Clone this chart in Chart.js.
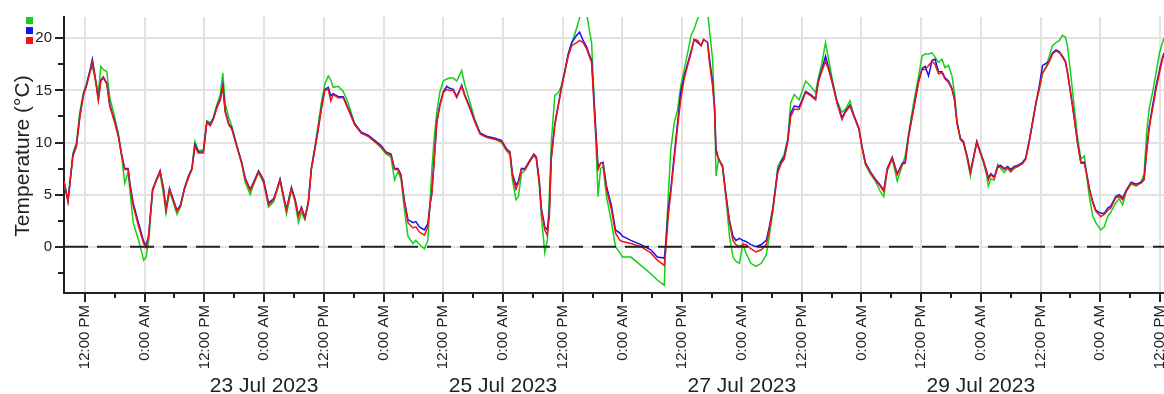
<!DOCTYPE html>
<html>
<head>
<meta charset="utf-8">
<script src="https://cdn.jsdelivr.net/npm/chart.js@4.4.0/dist/chart.umd.min.js"></script>
<style>
  html, body { margin: 0; padding: 0; background: #fff; }
  #wrap { width: 1164px; height: 394px; }
</style>
</head>
<body>
<div id="wrap"><canvas id="chart" width="1164" height="394"></canvas></div>
<script>
// hours since 21 Jul 2023 00:00
const hours = [
  7.8, 8.6, 9.6, 10.3, 11.0, 11.7, 12.3, 13.0, 13.5, 14.0, 14.7, 15.2, 15.7, 16.4, 17.0, 18.0, 18.7, 19.4, 20.0, 20.7,
  21.0, 21.7, 22.8, 23.8, 24.3, 24.8, 25.6, 26.4, 27.1, 27.8, 28.3, 29.0, 29.7, 30.5, 31.2, 32.0, 32.8, 33.5, 34.1, 34.8,
  35.8, 36.5, 37.2, 37.8, 38.5, 39.2, 39.7, 40.2, 40.9, 41.5, 42.5, 43.5, 44.2, 45.2,
  45.9, 46.9, 47.9, 48.9, 49.9, 50.5, 51.2, 51.9, 52.5, 53.5, 54.2, 54.9, 55.5, 56.2, 56.9, 57.5, 58.2, 58.9, 59.5, 60.2,
  60.9, 61.4, 61.9, 62.9, 63.9, 64.9, 66.2, 67.5, 68.9, 70.2, 71.5, 72.5, 73.5, 74.2, 74.9, 75.5, 76.2, 76.9, 77.9, 78.5,
  79.2, 80.2, 80.9, 81.4, 81.7, 82.2, 82.7, 83.3, 84.0,
  84.7, 85.3, 86.0, 86.7, 87.7, 88.3, 89.4, 90.4, 91.4, 92.7, 94.4, 95.7, 96.7, 97.4, 97.9, 98.6, 99.1, 99.7, 100.4, 101.4,
  102.2, 102.7, 103.3, 103.7, 104.4, 104.9, 105.3, 105.7, 106.4, 107.1, 107.7, 108.4, 109.1, 109.8, 110.8, 111.4, 112.1, 112.8, 113.3, 113.8,
  114.4, 115.1, 115.6, 116.1, 116.8, 117.8, 118.6, 119.5,
  120.0, 121.7, 123.7, 125.7, 127.0, 128.4, 128.7, 129.2, 129.7, 130.4, 131.1, 131.7, 132.4, 133.1, 133.8, 134.4, 135.1, 135.8, 136.3, 137.1,
  137.4, 138.1, 138.5, 138.8, 139.3, 140.1, 140.8, 141.5, 142.2, 142.8, 143.5, 144.2, 144.8, 145.8, 146.8, 147.9, 148.9, 149.5, 150.2, 151.2,
  151.9, 152.5, 153.2, 153.8, 154.5, 155.5,
  156.8, 157.8, 158.8, 159.4, 160.1, 160.8, 161.4, 162.1, 163.1, 164.1, 164.8, 165.7, 166.5, 167.5, 168.1, 168.8, 169.8, 170.8, 171.8, 172.5,
  173.2, 174.2, 174.7, 175.2, 176.2, 176.8, 177.5, 178.5, 179.5, 180.2, 180.8, 181.5, 182.2, 182.8, 183.5, 184.2, 184.8, 185.5, 186.2, 186.7,
  187.2, 187.9, 188.5, 189.2, 189.9, 190.5, 191.2, 191.9, 192.5, 193.2,
  193.5, 194.0, 194.7, 195.4, 196.0, 196.7, 197.4, 198.0, 198.7, 199.4, 200.4, 201.0, 201.7, 202.4, 203.1, 203.7, 204.4, 205.1, 205.7, 206.4,
  207.1, 207.8, 208.4, 209.0, 209.4, 210.1, 210.8, 211.4, 212.1, 212.8, 213.2, 213.8, 214.5, 215.1, 216.1, 216.8, 217.5, 218.1, 219.1, 219.8,
  220.5, 221.2, 222.2, 223.2, 224.2, 224.8, 225.3, 225.8, 226.5, 227.2, 227.9, 228.5, 228.8
];

const tempRed = [
  6.3, 4.3, 8.7, 9.6, 12.5, 14.5, 15.4, 16.7, 17.7, 16.4, 14.0, 15.9, 16.2, 15.6, 13.5, 11.9, 10.6, 8.7, 7.4, 7.4,
  6.1, 3.9, 1.9, 0.3, -0.1, 1.0, 5.5, 6.4, 7.2, 5.5, 3.5, 5.5, 4.5, 3.4, 3.9, 5.5, 6.6, 7.4, 9.6, 9.0,
  9.0, 11.9, 11.6, 12.2, 13.3, 14.1, 15.3, 12.9, 11.7, 11.3, 9.6, 8.0, 6.5, 5.4,
  6.1, 7.2, 6.3, 4.0, 4.5, 5.3, 6.4, 4.8, 3.5, 5.6, 4.5, 2.9, 3.7, 2.7, 4.2, 7.4, 9.3, 11.3, 13.2, 15.0,
  15.1, 14.0, 14.6, 14.3, 14.3, 13.2, 11.7, 10.9, 10.6, 10.1, 9.6, 9.0, 8.8, 7.4, 7.4, 6.8, 4.2, 2.3, 1.8, 1.9,
  1.4, 1.1, 1.9, 4.2, 5.0, 8.4, 11.9, 13.5, 14.8,
  15.1, 15.0, 15.0, 14.3, 15.4, 14.5, 13.2, 11.9, 10.8, 10.5, 10.3, 10.1, 9.3, 9.0, 6.8, 5.5, 6.1, 7.4, 7.4, 8.2,
  8.8, 8.5, 6.1, 3.5, 1.6, 1.1, 2.9, 8.4, 11.6, 13.5, 15.1, 16.7, 18.3, 19.3, 19.6, 19.8, 19.6, 19.0, 18.3, 17.7,
  12.5, 7.4, 8.0, 8.0, 5.5, 3.5, 1.3, 0.6,
  0.5, 0.3, 0.0, -0.6, -1.3, -1.8, -0.3, 2.9, 5.1, 8.4, 11.6, 14.1, 16.1, 17.4, 18.6, 19.9, 19.8, 19.3, 19.9, 19.6,
  18.0, 15.4, 13.2, 9.0, 8.5, 7.7, 4.8, 2.3, 0.6, 0.2, 0.0, 0.2, 0.2, -0.2, -0.5, -0.3, 0.2, 1.6, 3.5, 7.1,
  8.0, 8.4, 10.0, 12.5, 13.2, 13.2,
  14.8, 14.5, 14.1, 15.9, 16.9, 17.8, 17.0, 15.8, 13.8, 12.2, 12.9, 13.5, 12.5, 11.3, 9.6, 8.0, 7.1, 6.4, 5.8, 5.3,
  7.4, 8.5, 7.7, 6.9, 7.9, 8.0, 10.6, 13.2, 15.8, 17.0, 17.0, 17.4, 17.8, 17.5, 16.6, 16.7, 16.1, 15.8, 15.1, 14.1,
  11.9, 10.3, 10.0, 8.7, 7.1, 8.4, 10.0, 9.0, 8.2, 7.1,
  6.4, 6.9, 6.6, 7.6, 7.7, 7.4, 7.6, 7.2, 7.6, 7.7, 8.0, 8.4, 10.0, 11.9, 13.8, 15.1, 16.7, 17.2, 17.7, 18.5,
  18.8, 18.6, 18.2, 17.7, 16.7, 14.5, 12.2, 10.0, 8.0, 8.0, 7.1, 5.5, 4.2, 3.4, 2.9, 3.1, 3.5, 3.7, 4.7, 4.8,
  4.5, 5.3, 6.1, 5.9, 6.1, 6.4, 9.0, 11.3, 13.2, 15.1, 16.7, 18.0, 18.4
];

const tempBlue = [
  6.3, 4.4, 8.8, 9.7, 12.6, 14.6, 15.5, 16.9, 18.0, 16.5, 14.2, 16.0, 16.3, 15.7, 13.6, 12.0, 10.7, 8.8, 7.5, 7.5,
  6.2, 4.2, 2.2, 0.5, 0.1, 1.1, 5.5, 6.5, 7.3, 5.6, 3.6, 5.6, 4.6, 3.5, 4.0, 5.6, 6.7, 7.5, 9.8, 9.1,
  9.1, 12.0, 11.7, 12.3, 13.4, 14.2, 15.5, 13.0, 11.8, 11.4, 9.7, 8.1, 6.6, 5.5,
  6.2, 7.3, 6.4, 4.2, 4.6, 5.4, 6.5, 4.9, 3.6, 5.7, 4.6, 3.0, 3.8, 2.8, 4.3, 7.5, 9.4, 11.4, 13.3, 15.1,
  15.3, 14.5, 14.7, 14.4, 14.4, 13.3, 11.8, 11.0, 10.7, 10.2, 9.7, 9.1, 8.9, 7.5, 7.5, 6.9, 4.4, 2.6, 2.3, 2.4,
  1.9, 1.6, 2.2, 4.3, 5.2, 8.6, 12.0, 13.6, 14.9,
  15.4, 15.2, 15.1, 14.4, 15.5, 14.6, 13.3, 12.0, 10.9, 10.6, 10.4, 10.2, 9.4, 9.1, 7.0, 5.9, 6.3, 7.5, 7.5, 8.3,
  8.9, 8.6, 6.3, 3.7, 1.9, 1.6, 3.2, 8.6, 11.8, 13.6, 15.2, 16.8, 18.5, 19.6, 20.3, 20.6, 19.8, 19.2, 18.5, 17.9,
  13.2, 7.6, 8.0, 8.1, 5.8, 3.9, 1.6, 1.3,
  1.0, 0.6, 0.2, -0.3, -1.0, -1.1, 0.3, 3.5, 5.5, 8.8, 12.0, 14.8, 16.4, 17.6, 18.8, 19.9, 19.6, 19.3, 19.9, 19.6,
  18.4, 15.8, 13.5, 9.4, 8.4, 7.8, 5.0, 2.5, 1.0, 0.6, 0.8, 0.6, 0.5, 0.2, 0.0, 0.2, 0.6, 1.9, 3.7, 7.3,
  8.2, 8.6, 10.2, 12.8, 13.5, 13.4,
  14.9, 14.6, 14.2, 16.0, 17.1, 18.3, 17.2, 15.9, 13.9, 12.4, 13.0, 13.6, 12.6, 11.4, 9.7, 8.1, 7.2, 6.5, 5.9, 5.4,
  7.5, 8.6, 7.8, 7.0, 8.0, 8.1, 10.7, 13.3, 15.9, 17.1, 17.3, 16.4, 17.9, 18.0, 16.8, 16.8, 16.2, 15.9, 15.2, 14.2,
  12.0, 10.4, 10.1, 8.8, 7.2, 8.5, 10.1, 9.1, 8.3, 7.2,
  6.6, 7.0, 6.7, 7.7, 7.8, 7.5, 7.7, 7.4, 7.7, 7.8, 8.1, 8.5, 10.1, 12.0, 13.9, 15.3, 17.4, 17.6, 17.8, 18.6,
  18.9, 18.7, 18.3, 17.8, 16.8, 14.6, 12.3, 10.1, 8.1, 8.1, 7.2, 5.6, 4.3, 3.5, 3.2, 3.2, 3.7, 3.9, 4.8, 5.0,
  4.7, 5.4, 6.2, 6.0, 6.2, 6.5, 9.2, 11.5, 13.5, 15.4, 17.0, 18.2, 18.6
];

const tempGreen = [
  6.0, 4.5, 9.0, 10.0, 13.0, 14.8, 15.6, 16.8, 17.3, 16.2, 14.8, 17.3, 17.0, 16.8, 14.3, 12.4, 10.9, 8.6, 6.1, 7.2,
  5.6, 2.3, 0.6, -1.3, -1.0, 0.5, 5.3, 6.4, 7.0, 5.0, 3.2, 5.3, 4.3, 3.1, 3.8, 5.6, 6.8, 7.5, 10.1, 9.2,
  9.3, 12.1, 11.9, 12.4, 13.6, 14.6, 16.7, 13.7, 12.4, 11.6, 9.8, 8.0, 6.2, 5.0,
  6.0, 7.1, 6.1, 3.8, 4.3, 5.2, 6.4, 4.6, 3.1, 5.5, 4.3, 2.3, 3.3, 2.6, 4.4, 7.6, 9.6, 11.8, 13.8, 15.6,
  16.4, 16.0, 15.3, 15.4, 14.9, 13.8, 11.8, 11.0, 10.6, 10.1, 9.5, 8.9, 8.6, 6.4, 7.2, 6.5, 3.5, 1.0, 0.3, 0.6,
  0.2, -0.2, 0.6, 4.8, 7.4, 10.6, 12.9, 14.8, 15.9,
  16.1, 16.2, 16.2, 15.9, 16.9, 15.6, 13.8, 12.1, 10.9, 10.5, 10.3, 10.0, 9.2, 8.8, 6.4, 4.5, 4.8, 7.0, 7.3, 8.2,
  8.8, 8.4, 5.8, 2.9, -0.6, 0.6, 4.8, 10.0, 14.5, 14.8, 15.4, 16.8, 18.4, 19.5, 21.0, 22.0, 22.6, 22.4, 20.9, 19.6,
  13.2, 4.8, 7.5, 7.7, 4.8, 2.3, 0.0, -0.6,
  -1.0, -1.0, -1.8, -2.6, -3.2, -3.7, 0.3, 4.8, 9.3, 11.9, 13.2, 15.4, 17.0, 18.6, 20.3, 20.9, 21.9, 22.4, 22.6, 22.6,
  21.2, 18.0, 13.2, 6.8, 8.4, 7.6, 4.6, 1.0, -1.0, -1.4, -1.6, 0.3, -0.6, -1.6, -1.9, -1.6, -0.8, 1.0, 3.3, 7.7,
  8.3, 8.9, 10.3, 13.8, 14.6, 14.1,
  15.9, 15.4, 14.8, 16.3, 17.7, 19.6, 18.0, 16.2, 14.0, 12.9, 13.2, 14.0, 12.6, 11.3, 9.5, 7.9, 7.0, 6.3, 5.3, 4.8,
  7.3, 8.4, 7.4, 6.3, 7.8, 8.7, 10.9, 13.8, 16.4, 18.3, 18.5, 18.5, 18.6, 18.2, 17.7, 18.0, 17.2, 17.4, 16.4, 14.8,
  12.0, 10.3, 10.0, 8.6, 6.8, 8.5, 10.1, 9.0, 8.1, 6.8,
  5.8, 6.5, 6.4, 7.9, 7.5, 7.1, 7.5, 7.2, 7.5, 7.7, 8.0, 8.4, 10.0, 11.9, 13.8, 15.0, 16.6, 17.3, 18.2, 19.3,
  19.6, 19.8, 20.3, 20.1, 19.3, 16.4, 13.2, 10.6, 8.4, 8.7, 7.0, 4.8, 2.9, 2.3, 1.6, 1.9, 2.9, 3.3, 4.2, 4.6,
  4.0, 5.3, 6.0, 5.8, 6.2, 7.0, 10.9, 13.2, 14.8, 16.7, 18.6, 19.6, 20.0
];

const dateLabels = ['23 Jul 2023', '25 Jul 2023', '27 Jul 2023', '29 Jul 2023'];
const dateHours = [48, 96, 144, 192];
const yTicks = [0, 5, 10, 15, 20];

const FONT = '"Liberation Sans", Arial, sans-serif';
const GREEN = '#16d016';
const BLUE = '#1414f0';
const RED = '#f01414';

function pts(arr) {
  return hours.map((h, i) => ({ x: h, y: arr[i] }));
}

const extras = {
  id: 'extras',
  afterDatasetsDraw(chart) {
    const { ctx, chartArea, scales } = chart;
    const y0 = scales.y.getPixelForValue(0);
    ctx.save();
    ctx.strokeStyle = '#222';
    ctx.lineWidth = 2;
    ctx.setLineDash([24, 9]);
    ctx.beginPath();
    ctx.moveTo(chartArea.left, y0);
    ctx.lineTo(chartArea.right, y0);
    ctx.stroke();
    ctx.restore();
  },
  afterDraw(chart) {
    const { ctx, chartArea, scales } = chart;
    ctx.save();
    // minor ticks
    ctx.strokeStyle = '#222';
    ctx.lineWidth = 2;
    ctx.beginPath();
    for (let h = 18; h < 229; h += 12) {
      const x = Math.round(scales.x.getPixelForValue(h));
      ctx.moveTo(x, chartArea.bottom);
      ctx.lineTo(x, chartArea.bottom + 5);
    }
    for (let v = -2.5; v < 22; v += 5) {
      const y = Math.round(scales.y.getPixelForValue(v));
      ctx.moveTo(chartArea.left, y);
      ctx.lineTo(chartArea.left - 6, y);
    }
    ctx.stroke();

    // date row
    ctx.fillStyle = '#222';
    ctx.font = '21px ' + FONT;
    ctx.textAlign = 'center';
    ctx.textBaseline = 'alphabetic';
    dateLabels.forEach((d, i) => {
      ctx.fillText(d, scales.x.getPixelForValue(dateHours[i]), 392);
    });

    // y title
    ctx.translate(23, 156);
    ctx.rotate(-Math.PI / 2);
    ctx.textBaseline = 'middle';
    ctx.fillText('Temperature (°C)', 0, 0);
    ctx.restore();

    // series squares
    ctx.save();
    [GREEN, BLUE, RED].forEach((c, i) => {
      ctx.fillStyle = c;
      ctx.fillRect(26, 17 + i * 10, 7, 7);
    });
    ctx.restore();
  }
};

new Chart(document.getElementById('chart'), {
  type: 'line',
  data: {
    datasets: [
      { label: 'Red', data: pts(tempRed), borderColor: RED, order: 1 },
      { label: 'Blue', data: pts(tempBlue), borderColor: BLUE, order: 2 },
      { label: 'Green', data: pts(tempGreen), borderColor: GREEN, order: 3 }
    ]
  },
  options: {
    responsive: false,
    animation: false,
    devicePixelRatio: 1,
    layout: { padding: { top: 17, right: 0, left: 0, bottom: 0 } },
    elements: {
      point: { radius: 0 },
      line: { borderWidth: 1.5, tension: 0 }
    },
    plugins: { legend: { display: false }, tooltip: { enabled: false } },
    scales: {
      x: {
        type: 'linear',
        min: 7.8,
        max: 228.8,
        afterBuildTicks: (scale) => {
          const t = [];
          for (let h = 12; h <= 228; h += 12) t.push({ value: h });
          scale.ticks = t;
        },
        afterFit: (scale) => {
          scale.height = 101;
          scale.paddingLeft = 0;
          scale.paddingRight = 0;
        },
        ticks: {
          autoSkip: false,
          minRotation: 90,
          maxRotation: 90,
          padding: 3,
          color: '#222',
          font: { family: FONT, size: 15 },
          callback: (v) => (v % 24 === 12 ? '12:00 PM' : '0:00 AM')
        },
        grid: { color: '#e2e2e2', lineWidth: 2, tickColor: '#222', tickLength: 9 },
        border: { color: '#222', width: 2 }
      },
      y: {
        min: -4.45,
        max: 22.05,
        afterBuildTicks: (scale) => {
          scale.ticks = yTicks.map(v => ({ value: v }));
        },
        afterFit: (scale) => {
          scale.width = 64;
          scale.paddingTop = 0;
          scale.paddingBottom = 0;
        },
        ticks: {
          padding: 3,
          color: '#222',
          font: { family: FONT, size: 15 },
          callback: (v) => String(v)
        },
        grid: { color: '#e2e2e2', lineWidth: 2, tickColor: '#222', tickLength: 9 },
        border: { color: '#222', width: 2 }
      }
    }
  },
  plugins: [extras]
});
</script>
</body>
</html>
